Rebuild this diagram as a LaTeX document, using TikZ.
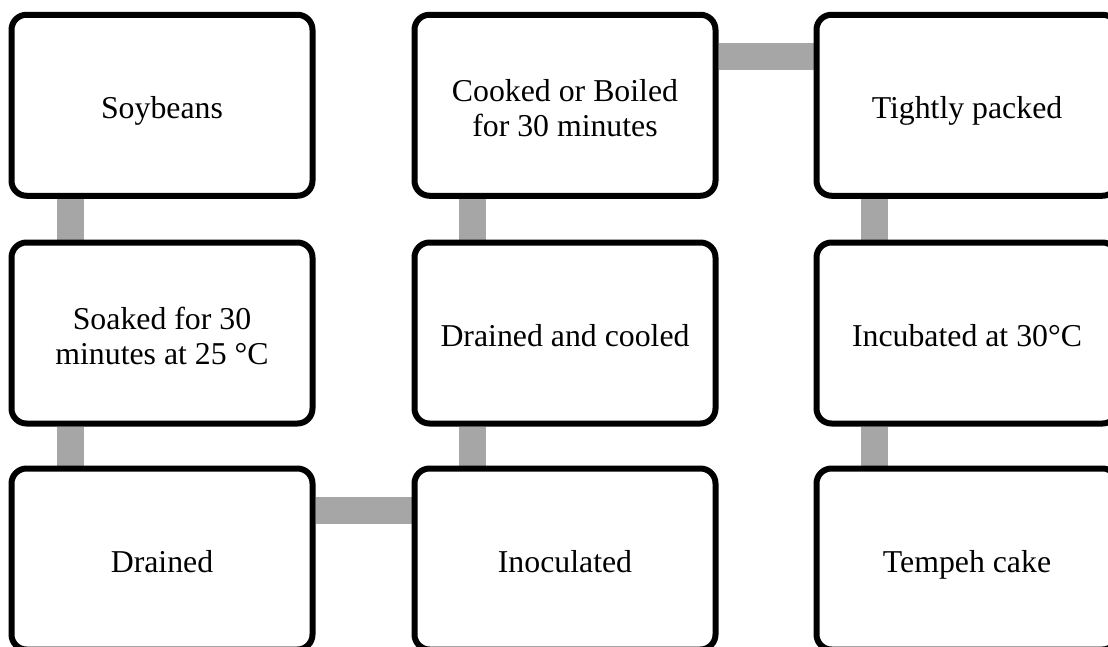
\documentclass[tikz,border=0pt]{standalone}
\usepackage{fontspec}
\setmainfont{Liberation Serif}
\usetikzlibrary{backgrounds}
\begin{document}
\begin{tikzpicture}[x=1pt,y=1pt,
  box/.style={draw=black,line width=6pt,rounded corners=15pt,fill=white,
    minimum width=301pt,minimum height=181pt,align=center,inner sep=0pt,
    font=\fontsize{31.8}{35}\selectfont,
    execute at begin node={\rule{0pt}{34pt}},
    execute at end node={\rule[-8pt]{0pt}{8pt}}},
  txt/.style={align=center,inner sep=0pt,font=\fontsize{31.8}{35}\selectfont},
  conn/.style={draw=black!35,line width=27pt}]
\useasboundingbox (0,0) rectangle (1108,-646);
\clip (0,0) rectangle (1108,-646);
\node[box] (soy) at (162,-105.25) {Soybeans};
\node[box] (soak) at (162,-333) {};
\node[txt] (soakt) at ([yshift=-2.5pt]soak.center) {Soaked for 30\\minutes at 25 °C};
\node[box] (dr) at (162,-559) {Drained};
\node[box] (cook) at (565,-105.25) {};
\node[txt] (cookt) at ([yshift=-2.5pt]cook.center) {Cooked or Boiled\\for 30 minutes};
\node[box] (dc) at (565,-333) {Drained and cooled};
\node[box] (ino) at (565,-559) {Inoculated};
\node[box] (tp) at (967,-105.25) {Tightly packed};
\node[box] (inc) at (967,-333) {Incubated at 30°C};
\node[box] (tc) at (967,-559) {Tempeh cake};
\begin{scope}[on background layer]
\draw[conn] ([xshift=61.5pt]soy.south west) -- ([xshift=61.5pt]soak.north west);
\draw[conn] ([xshift=61.5pt]soak.south west) -- ([xshift=61.5pt]dr.north west);
\draw[conn] ([yshift=-45pt]dr.north east) -- ([yshift=-45pt]ino.north west);
\draw[conn] ([xshift=61pt]ino.north west) -- ([xshift=61pt]dc.south west);
\draw[conn] ([xshift=61pt]dc.north west) -- ([xshift=61pt]cook.south west);
\draw[conn] ([yshift=-44.5pt]cook.north east) -- ([yshift=-44.5pt]tp.north west);
\draw[conn] ([xshift=61pt]tp.south west) -- ([xshift=61pt]inc.north west);
\draw[conn] ([xshift=61pt]inc.south west) -- ([xshift=61pt]tc.north west);
\end{scope}
\end{tikzpicture}
\end{document}
